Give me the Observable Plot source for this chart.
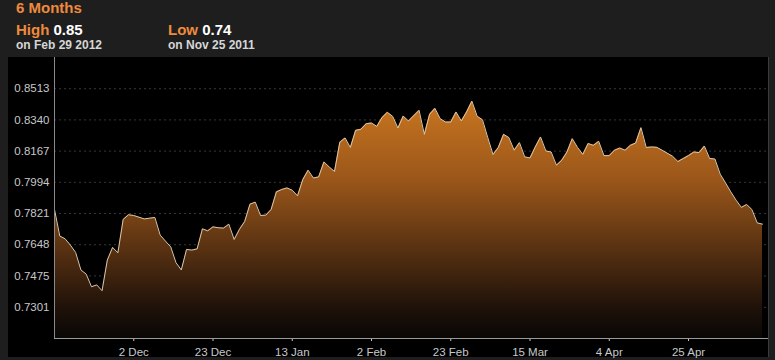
<!DOCTYPE html>
<html>
<head>
<meta charset="utf-8">
<script src="https://cdn.jsdelivr.net/npm/d3@7"></script>
<script src="https://cdn.jsdelivr.net/npm/@observablehq/plot@0.6"></script>
<style>
  html, body { margin: 0; padding: 0; background: #1e1e1e; }
  #page { position: relative; width: 775px; height: 360px; overflow: hidden; background: #1e1e1e;
          font-family: "Liberation Sans", Arial, Helvetica, sans-serif; }
  .t { position: absolute; white-space: nowrap; line-height: 1; font-weight: bold; }
  .big { font-size: 15px; }
  .small { font-size: 12px; color: #d6d6d6; }
  .or { color: #ef8a3d; }
  .wh { color: #ffffff; }
  #panel { position: absolute; left: 8px; top: 57px; width: 760px; height: 300px; background: #000;
           border-right: 1px solid #3c3c3c; }
</style>
</head>
<body>
<div id="page">
  <div class="t big or" style="left:16px; top:0px;">6 Months</div>
  <div class="t big" style="left:16px; top:22px;"><span class="or">High</span> <span class="wh" id="hi"></span></div>
  <div class="t small" style="left:16px; top:38.5px;" id="hiDate"></div>
  <div class="t big" style="left:168px; top:22px;"><span class="or">Low</span> <span class="wh" id="lo"></span></div>
  <div class="t small" style="left:168px; top:38.5px;" id="loDate"></div>
  <div id="panel"></div>
</div>
<script>
// Header values
const highValue = "0.85", highDate = "on Feb 29 2012";
const lowValue = "0.74", lowDate = "on Nov 25 2011";

// Trading-day index of each point
const days = [0,1,2,3,4,5,6,7,8,9,10,11,12,13,14,15,17,18,19,20,21,22,23,24,25,26,27,28,29,30,
  31,32,33,34,35,36,37,38,39,40,41,42,43,44,45,46,47,48,49,50,51,52,53,54,55,56,57,58,59,60,
  61,62,63,64,65,66,67,69,70,71,72,73,74,75,76,77,78,79,80,81,82,83,84,85,86,87,88,89,90,91,
  92,93,94,95,96,97,98,99,100,101,102,103,104,105,106,107,108,109,110,111,112,113,114,115,
  117,118,119,120,121,122,123,124,125,126,127,128,129,130,131,132,133,134];

// Exchange rate values
const rates = [
  0.7843,0.7696,0.7681,0.7646,0.7605,0.7508,0.7485,0.7415,0.7425,0.7393,
  0.7563,0.7633,0.7603,0.7788,0.7814,0.7810,0.7791,0.7795,0.7799,0.7701,
  0.7668,0.7636,0.7548,0.7508,0.7622,0.7618,0.7625,0.7736,0.7725,0.7747,
  0.7742,0.7740,0.7762,0.7677,0.7733,0.7777,0.7873,0.7884,0.7810,0.7812,
  0.7843,0.7941,0.7954,0.7963,0.7950,0.7919,0.8009,0.8061,0.8018,0.8024,
  0.8107,0.8079,0.8054,0.8216,0.8240,0.8187,0.8282,0.8288,0.8319,0.8323,
  0.8304,0.8353,0.8382,0.8360,0.8295,0.8361,0.8334,0.8393,0.8260,0.8371,
  0.8404,0.8347,0.8328,0.8328,0.8384,0.8334,0.8384,0.8444,0.8360,0.8341,
  0.8242,0.8148,0.8187,0.8260,0.8242,0.8172,0.8214,0.8135,0.8129,0.8190,
  0.8245,0.8168,0.8162,0.8089,0.8116,0.8162,0.8236,0.8187,0.8149,0.8209,
  0.8199,0.8221,0.8142,0.8142,0.8172,0.8184,0.8172,0.8199,0.8212,0.8297,
  0.8187,0.8190,0.8188,0.8172,0.8138,0.8109,0.8126,0.8142,0.8162,0.8159,
  0.8195,0.8126,0.8123,0.8039,0.7991,0.7941,0.7895,0.7855,0.7871,0.7843,
  0.7769,0.7762];

// Axis ticks
const xTickDays = [15, 30, 45, 60, 75, 90, 105, 120];
const xTickLabels = ["2 Dec", "23 Dec", "13 Jan", "2 Feb", "23 Feb", "15 Mar", "4 Apr", "25 Apr"];
const yTicks = [0.7301, 0.7475, 0.7648, 0.7821, 0.7994, 0.8167, 0.8340, 0.8513];
const xDomain = [0, 134];
const yDomain = [0.7128, 0.8686];

document.getElementById("hi").textContent = highValue;
document.getElementById("hiDate").textContent = highDate;
document.getElementById("lo").textContent = lowValue;
document.getElementById("loDate").textContent = lowDate;

const data = days.map((d, i) => ({day: d, rate: rates[i]}));
const labelOf = new Map(xTickDays.map((d, i) => [d, xTickLabels[i]]));

const chart = Plot.plot({
  width: 760,
  height: 300,
  marginLeft: 46,
  marginRight: 6,
  marginTop: 0,
  marginBottom: 19,
  style: {background: "#000", color: "#c8c8c8", fontSize: "11.5px",
          fontFamily: "'Liberation Sans', Arial, Helvetica, sans-serif", overflow: "visible"},
  x: {domain: xDomain, ticks: xTickDays, tickFormat: d => labelOf.get(d), tickSize: 3, tickPadding: 6, label: null},
  y: {domain: yDomain, ticks: yTicks, tickFormat: d => d.toFixed(4), tickSize: 0, tickPadding: 5, label: null},
  marks: [
    Plot.ruleY(yTicks, {stroke: "#444", strokeWidth: 0.8, strokeDasharray: "2,3", insetRight: -6}),
    Plot.areaY(data, {x: "day", y1: () => yDomain[0], y2: "rate", fill: "url(#fxGrad)"}),
    Plot.lineY(data, {x: "day", y: "rate", stroke: "#d9c8aa", strokeWidth: 1}),
    Plot.ruleX([xDomain[0]], {stroke: "#8a8a8a", strokeWidth: 1}),
    Plot.ruleY([yDomain[0]], {stroke: "#9a9a9a", strokeWidth: 1, insetRight: -6})
  ]
});

const svg = d3.select(chart);
const defs = svg.insert("defs", ":first-child");
const g = defs.append("linearGradient")
  .attr("id", "fxGrad").attr("gradientUnits", "userSpaceOnUse")
  .attr("x1", 0).attr("x2", 0).attr("y1", 38).attr("y2", 281);
[[0, "#cc7820"], [0.35, "#9a561a"], [0.65, "#542f11"], [0.88, "#1e1109"], [1, "#0a0705"]]
  .forEach(([o, c]) => g.append("stop").attr("offset", o).attr("stop-color", c));

document.getElementById("panel").appendChild(chart);
</script>
</body>
</html>
